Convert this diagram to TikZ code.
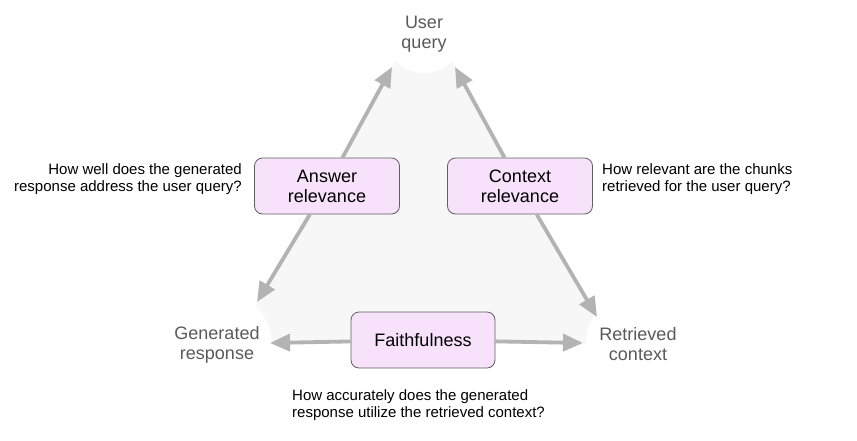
\documentclass[tikz,border=0pt]{standalone}
\usepackage{fontspec}
\setmainfont{Liberation Sans}
\usepackage{tikz}
\definecolor{trianglegrey}{HTML}{F7F7F7}
\definecolor{arrowgrey}{HTML}{B3B3B3}
\definecolor{lightorchid}{HTML}{F8E1FB}
\definecolor{boxborder}{HTML}{5F5F5F}
\definecolor{labelgrey}{HTML}{5A5A5A}
\usetikzlibrary{arrows.meta}
\tikzset{
    metric/.style={fill=lightorchid, draw=boxborder, line width=0.8pt, rounded corners=8pt,
        minimum width=145pt, minimum height=56pt, align=center,
        font=\fontsize{18}{20}\selectfont},
    corner/.style={fill=white, circle, align=center, text=labelgrey,
        font=\fontsize{18}{20}\selectfont},
    question/.style={inner sep=0pt, font=\fontsize{15}{17.5}\selectfont},
    edge/.style={-{Triangle[length=20pt,width=17pt]}, draw=arrowgrey, line width=3.8pt}
}

\begin{document}
\begin{tikzpicture}[x=1pt,y=-1pt]
                \useasboundingbox (0,0) rectangle (857,440);

                % Grey triangle
                \coordinate (t1) at (424,12);
                \coordinate (t2) at (233,343);
                \coordinate (t3) at (612,343);
                \fill[trianglegrey] (t1) -- (t2) -- (t3) -- cycle;

                \node[corner, minimum size=78pt] (uq) at (424,34) {User\\query};
                \node[corner, minimum size=110pt] (gr) at (217,345) {Generated\\response};
                \node[corner, minimum size=104pt] (rc) at (638,344) {Retrieved\\context};

                % Arrow ends
                \coordinate (arTop) at (392,67);
                \coordinate (arBot) at (257,302);
                \coordinate (crTop) at (455,67);
                \coordinate (crBot) at (597,317);
                \coordinate (flL) at (270,343);
                \coordinate (flR) at (583,343);

                \node[metric] (ar) at (327,186) {Answer\\relevance};
                \node[metric] (cr) at (520,186) {Context\\relevance};
                \node[metric, minimum width=144pt] (fl) at (423,340) {Faithfulness};

                % Metric arrows
                \draw[edge] (ar) -- (arTop);
                \draw[edge] (ar) -- (arBot);
                \draw[edge] (cr) -- (crTop);
                \draw[edge] (cr) -- (crBot);
                \draw[edge] (fl) -- (flL);
                \draw[edge] (fl) -- (flR);

                % Questions
                \node[question, anchor=east, align=right] (qar) at (242,179) {How well does the generated\\response address the user query?};
                \node[question, anchor=west, align=left] (qcr) at (602,179) {How relevant are the chunks\\retrieved for the user query?};
                \node[question, anchor=west, align=left] (qfl) at (292,405) {How accurately does the generated\\response utilize the retrieved context?};

\end{tikzpicture}
\end{document}
